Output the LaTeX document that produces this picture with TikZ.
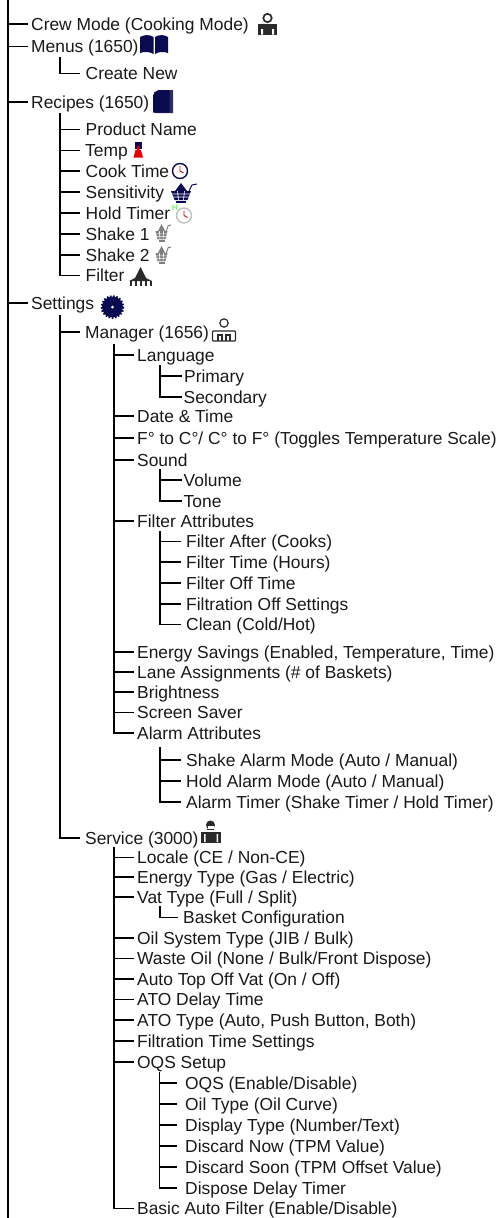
\documentclass[tikz,border=0pt]{standalone}
\usepackage{fontspec}
\setmainfont{Liberation Sans}
\definecolor{iconnavy}{HTML}{0A0A50}
\definecolor{icongray}{HTML}{7F7F7F}
\definecolor{icondark}{HTML}{2A2A2A}
\tikzset{
  treeline/.style={draw=black,line width=1.1pt},
  item/.style={anchor=west,inner ysep=0pt,text height=12pt,text depth=0pt,font=\fontsize{17.4}{20}\selectfont,text=black!90},
  lvlone/.style={item,inner xsep=3pt},
  lvltwo/.style={item,inner xsep=5.5pt},
  lvlthree/.style={item,inner xsep=3pt},
  lvlnear/.style={item,inner xsep=2pt},
  lvlfar/.style={item,inner xsep=5pt},
  basketicon/.pic={
    \fill[#1] (-10,-2) -- (10,-2) -- (6.5,7) -- (-6.5,7) -- cycle;
    \fill[#1] (0,-10) -- (6,-2) -- (-6,-2) -- cycle;
    \draw[#1,line width=1pt] (8,-2) -- (11,-8) -- (16,-9);
    \fill[#1] (-5,8) rectangle (5,10);
    \draw[white,line width=0.6pt] (-9,1) -- (9,1) (-8,4) -- (8,4) (-3.5,-2) -- (-2.5,7) (3.5,-2) -- (2.5,7);
  },
  clockicon/.pic={
    \draw[#1,line width=1.4pt,fill=white] (0,0) circle (7.5);
    \draw[red!80!black,line width=0.9pt] (0,-5) -- (0,0) -- (3.5,2);
  },
}
\begin{document}
\begin{tikzpicture}[x=1pt,y=-1pt]
  \path[use as bounding box] (0,0) rectangle (503,1218);

  % main level
  \coordinate (roottop) at (8,0);
  \coordinate (rootend) at (8,1218);
  \node[lvlone] (crew) at (28,24) {Crew Mode (Cooking Mode)};
  \node[lvlone] (menus) at (28,46.5) {Menus (1650)};
  \node[lvlone] (recipes) at (28,102) {Recipes (1650)};
  \node[lvlone] (settings) at (28,303) {Settings};
  \draw[treeline] (roottop) -- (rootend);
  \draw[treeline] (crew.west -| roottop) -- (crew.west);
  \draw[treeline] (menus.west -| roottop) -- (menus.west);
  \draw[treeline] (recipes.west -| roottop) -- (recipes.west);
  \draw[treeline] (settings.west -| roottop) -- (settings.west);

  % menus
  \coordinate (menustop) at (60,57);
  \node[lvltwo] (createnew) at (80,73.5) {Create New};
  \draw[treeline] (menustop) |- (createnew.west);

  % recipes
  \coordinate (recipestop) at (60,113);
  \node[lvltwo] (productname) at (80,129.5) {Product Name};
  \node[lvltwo] (temp) at (79.5,150.5) {Temp};
  \node[lvltwo] (cooktime) at (80,171) {Cook Time};
  \node[lvltwo] (sensitivity) at (80,192) {Sensitivity};
  \node[lvltwo] (holdtimer) at (80,213) {Hold Timer};
  \node[lvltwo] (shakeone) at (80,234) {Shake 1};
  \node[lvltwo] (shaketwo) at (80,255) {Shake 2};
  \node[lvltwo] (filter) at (80,275.5) {Filter};
  \draw[treeline] (recipestop) |- (productname.west);
  \draw[treeline] (recipestop) |- (temp.west);
  \draw[treeline] (recipestop) |- (cooktime.west);
  \draw[treeline] (recipestop) |- (sensitivity.west);
  \draw[treeline] (recipestop) |- (holdtimer.west);
  \draw[treeline] (recipestop) |- (shakeone.west);
  \draw[treeline] (recipestop) |- (shaketwo.west);
  \draw[treeline] (recipestop) |- (filter.west);

  % settings
  \coordinate (settingstop) at (60,315);
  \node[lvltwo] (manager) at (79.5,332) {Manager (1656)};
  \node[lvltwo] (service) at (79.5,838) {Service (3000)};
  \draw[treeline] (settingstop) |- (manager.west);
  \draw[treeline] (settingstop) |- (service.west);

  % manager
  \coordinate (managertop) at (114,344);
  \node[lvlthree] (language) at (134,355) {Language};
  \node[lvlthree] (datetime) at (134,416) {Date \& Time};
  \node[lvlthree] (tempscale) at (134,438) {F° to C°/ C° to F° (Toggles Temperature Scale)};
  \node[lvlthree] (sound) at (134,460) {Sound};
  \node[lvlthree] (filterattr) at (134,521) {Filter Attributes};
  \node[lvlthree] (energysave) at (134,652) {Energy Savings (Enabled, Temperature, Time)};
  \node[lvlthree] (lane) at (134,672) {Lane Assignments (\# of Baskets)};
  \node[lvlthree] (brightness) at (134,692) {Brightness};
  \node[lvlthree] (screensaver) at (134,712.5) {Screen Saver};
  \node[lvlthree] (alarmattr) at (134,733) {Alarm Attributes};
  \draw[treeline] (managertop) |- (language.west);
  \draw[treeline] (managertop) |- (datetime.west);
  \draw[treeline] (managertop) |- (tempscale.west);
  \draw[treeline] (managertop) |- (sound.west);
  \draw[treeline] (managertop) |- (filterattr.west);
  \draw[treeline] (managertop) |- (energysave.west);
  \draw[treeline] (managertop) |- (lane.west);
  \draw[treeline] (managertop) |- (brightness.west);
  \draw[treeline] (managertop) |- (screensaver.west);
  \draw[treeline] (managertop) |- (alarmattr.west);

  % language
  \coordinate (languagetop) at (160,365);
  \node[lvlnear] (primary) at (182,376) {Primary};
  \node[lvlnear] (secondary) at (181.5,397) {Secondary};
  \draw[treeline] (languagetop) |- (primary.west);
  \draw[treeline] (languagetop) |- (secondary.west);

  % sound
  \coordinate (soundtop) at (160,469);
  \node[lvlnear] (volume) at (181.5,480) {Volume};
  \node[lvlnear] (tone) at (181.5,501) {Tone};
  \draw[treeline] (soundtop) |- (volume.west);
  \draw[treeline] (soundtop) |- (tone.west);

  % filter attributes
  \coordinate (filtertop) at (160,531);
  \node[lvlfar] (filterafter) at (181,541.5) {Filter After (Cooks)};
  \node[lvlfar] (filtertime) at (181,562) {Filter Time (Hours)};
  \node[lvlfar] (filteroff) at (181,583) {Filter Off Time};
  \node[lvlfar] (filtrationoff) at (181,604) {Filtration Off Settings};
  \node[lvlfar] (clean) at (181,624.5) {Clean (Cold/Hot)};
  \draw[treeline] (filtertop) |- (filterafter.west);
  \draw[treeline] (filtertop) |- (filtertime.west);
  \draw[treeline] (filtertop) |- (filteroff.west);
  \draw[treeline] (filtertop) |- (filtrationoff.west);
  \draw[treeline] (filtertop) |- (clean.west);

  % alarm attributes
  \coordinate (alarmtop) at (160,747);
  \node[lvlfar] (shakealarm) at (181,760) {Shake Alarm Mode (Auto / Manual)};
  \node[lvlfar] (holdalarm) at (181,781) {Hold Alarm Mode (Auto / Manual)};
  \node[lvlfar] (alarmtimer) at (181,802) {Alarm Timer (Shake Timer / Hold Timer)};
  \draw[treeline] (alarmtop) |- (shakealarm.west);
  \draw[treeline] (alarmtop) |- (holdalarm.west);
  \draw[treeline] (alarmtop) |- (alarmtimer.west);

  % service
  \coordinate (servicetop) at (114,847);
  \node[lvlthree] (locale) at (134,857.5) {Locale (CE / Non-CE)};
  \node[lvlthree] (energytype) at (134,877) {Energy Type (Gas / Electric)};
  \node[lvlthree] (vattype) at (134,897) {Vat Type (Full / Split)};
  \node[lvlthree] (oilsystem) at (134,938) {Oil System Type (JIB / Bulk)};
  \node[lvlthree] (wasteoil) at (134,958.5) {Waste Oil (None / Bulk/Front Dispose)};
  \node[lvlthree] (autotop) at (134,979) {Auto Top Off Vat (On / Off)};
  \node[lvlthree] (atodelay) at (134,999.5) {ATO Delay Time};
  \node[lvlthree] (atotype) at (134,1020) {ATO Type (Auto, Push Button, Both)};
  \node[lvlthree] (filtrationtime) at (134,1041) {Filtration Time Settings};
  \node[lvlthree] (oqssetup) at (134,1062) {OQS Setup};
  \node[lvlthree] (basicauto) at (134,1208.5) {Basic Auto Filter (Enable/Disable)};
  \draw[treeline] (servicetop) |- (locale.west);
  \draw[treeline] (servicetop) |- (energytype.west);
  \draw[treeline] (servicetop) |- (vattype.west);
  \draw[treeline] (servicetop) |- (oilsystem.west);
  \draw[treeline] (servicetop) |- (wasteoil.west);
  \draw[treeline] (servicetop) |- (autotop.west);
  \draw[treeline] (servicetop) |- (atodelay.west);
  \draw[treeline] (servicetop) |- (atotype.west);
  \draw[treeline] (servicetop) |- (filtrationtime.west);
  \draw[treeline] (servicetop) |- (oqssetup.west);
  \draw[treeline] (servicetop) |- (basicauto.west);

  % vat type
  \coordinate (vattop) at (160,906);
  \node[lvlfar] (basketconf) at (178,917.5) {Basket Configuration};
  \draw[treeline] (vattop) |- (basketconf.west);

  % oqs setup
  \coordinate (oqstop) at (159.5,1072);
  \node[item,inner xsep=8pt] (oqs) at (177,1083) {OQS (Enable/Disable)};
  \node[item,inner xsep=8pt] (oiltype) at (177,1104) {Oil Type (Oil Curve)};
  \node[item,inner xsep=8pt] (display) at (177,1125) {Display Type (Number/Text)};
  \node[item,inner xsep=8pt] (discardnow) at (177,1146) {Discard Now (TPM Value)};
  \node[item,inner xsep=8pt] (discardsoon) at (177,1167) {Discard Soon (TPM Offset Value)};
  \node[item,inner xsep=8pt] (dispose) at (177,1188) {Dispose Delay Timer};
  \draw[treeline] (oqstop) |- (oqs.west);
  \draw[treeline] (oqstop) |- (oiltype.west);
  \draw[treeline] (oqstop) |- (display.west);
  \draw[treeline] (oqstop) |- (discardnow.west);
  \draw[treeline] (oqstop) |- (discardsoon.west);
  \draw[treeline] (oqstop) |- (dispose.west);

  % crew icon
  \draw[icondark,line width=1.7pt] (267.5,18) circle (4.2);
  \fill[icondark] (258,24) rectangle (277,34.5);
  \fill[white] (261,29) rectangle (263,34.5) (272,29) rectangle (274,34.5);
  % book
  \fill[iconnavy] (140,37) .. controls (144,34.5) and (150,34.5) .. (153.5,37) -- (153.5,54) .. controls (150,51.5) and (144,51.5) .. (140,53) -- cycle;
  \fill[iconnavy] (155,37) .. controls (158.5,34.5) and (164.5,34.5) .. (168,37) -- (168,53) .. controls (164.5,51.5) and (158.5,51.5) .. (155,54) -- cycle;
  % recipe page
  \fill[iconnavy!70!gray] (154,92) -- (160,90) -- (173,90) -- (173,113) -- (155,113) -- cycle;
  \fill[iconnavy] (153,95) -- (158,90) -- (169.5,90) -- (169.5,112.5) -- (153,112.5) -- cycle;
  % temp
  \fill[iconnavy] (134.5,142) rectangle (141.5,149);
  \fill[red!90!black] (137,146) rectangle (139.5,150) (133.5,157.5) -- (135.5,150) -- (141,150) -- (143,157.5) -- cycle;
  % cook time
  \pic at (180,171) {clockicon=iconnavy};
  % sensitivity
  \pic at (181,193) {basketicon=iconnavy};
  % hold timer
  \pic at (184,215.5) {clockicon=lightgray};
  \node[inner sep=0pt,text=green!60,font=\fontsize{8}{8}\selectfont\bfseries] (holdmark) at (175,208) {H};
  % shake baskets
  \pic[xscale=0.6,yscale=0.9] at (161.5,233) {basketicon=icongray};
  \pic[xscale=0.6,yscale=0.9] at (161.5,255) {basketicon=icongray};
  % filter
  \fill[icondark] (140.5,267) -- (146,278) -- (152,281) -- (129,281) -- (135,278) -- cycle;
  \draw[icondark,line width=1.3pt] (131,281) -- (131,286) (136,281) -- (136,286) (141,281) -- (141,286) (146,281) -- (146,286) (151,281) -- (151,286);
  % settings wheel
  \fill[iconnavy] (112.5,307) circle (10.5);
  \draw[iconnavy,line width=2pt,dash pattern=on 1.6pt off 1.6pt] (112.5,307) circle (10.8);
  \fill[white] (112.5,307) circle (1.5);
  % manager icon
  \draw[icondark,line width=1.2pt] (224,323) circle (4.2);
  \draw[icondark,line width=1.2pt,rounded corners=1pt] (212.5,341) -- (212.5,331) -- (235.5,331) -- (235.5,341) -- cycle;
  \draw[icondark,line width=1.2pt] (218,341) -- (218,335) -- (222,335) -- (222,341) (226,341) -- (226,335) -- (230,335) -- (230,341);
  % service icon
  \fill[icondark] (210.5,825) circle (4.5);
  \fill[white] (207.5,825.5) rectangle (213.5,829);
  \draw[icondark,line width=1pt] (207,829) -- (214,829);
  \fill[icondark] (201,832) rectangle (221,843);
  \fill[white] (204,834) rectangle (205.5,842) (216.5,834) rectangle (218,842);
\end{tikzpicture}
\end{document}
